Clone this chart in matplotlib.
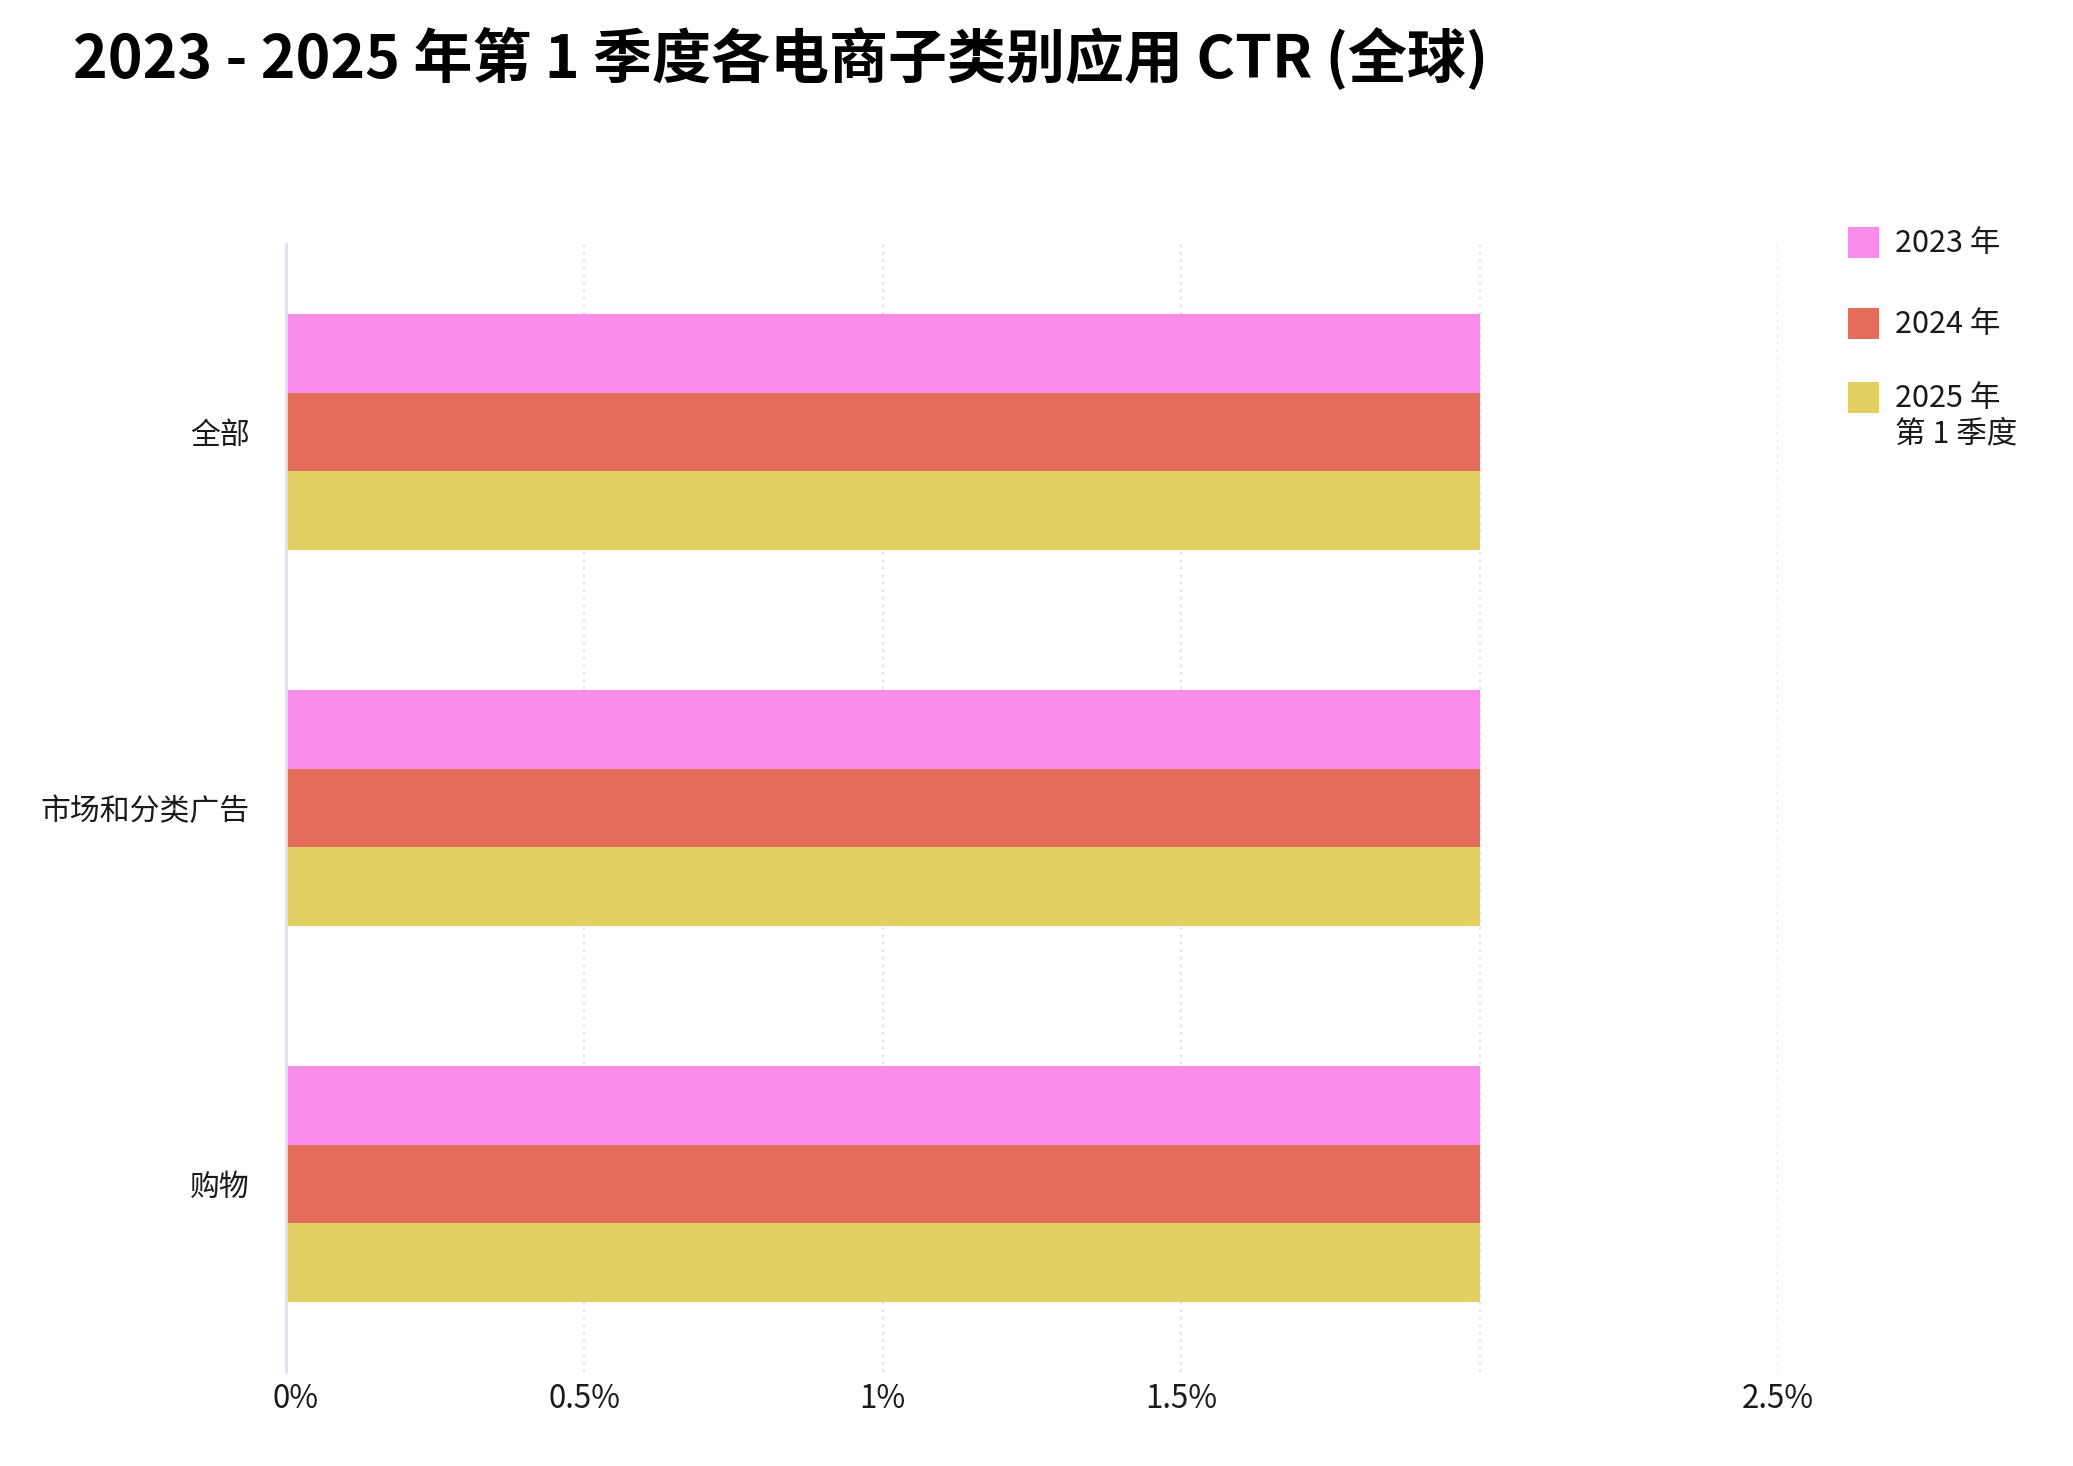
import matplotlib
matplotlib.use("Agg")
import matplotlib.pyplot as plt
import numpy as np
from matplotlib.patches import Rectangle

plt.rcParams["font.family"] = ["Noto Sans CJK SC", "DejaVu Sans"]
plt.rcParams["axes.unicode_minus"] = False

# data
categories = ["全部", "市场和分类广告", "购物"]
series_names = ["2023 年", "2024 年", "2025 年\n第 1 季度"]
ctr_2023 = [2.0, 2.0, 2.0]
ctr_2024 = [2.0, 2.0, 2.0]
ctr_2025q1 = [2.0, 2.0, 2.0]
xticks = [0, 0.5, 1, 1.5, 2, 2.5]
xtick_labels = ["0%", "0.5%", "1%", "1.5%", "", "2.5%"]

PINK = "#F98BEA"; RED = "#E46C5A"; YELLOW = "#E4CF62"
INK = "#1A1A1A"; GRID = "#D9D9DE"; SPINE = "#E2E0F0"
colors = [PINK, RED, YELLOW]

W, H = 2073, 1466
fig = plt.figure(figsize=(W / 100, H / 100), dpi=100)
fig.patch.set_facecolor("white")
ax = fig.add_axes([286 / W, 94 / H, (1778 - 286) / W, (1368 - 240) / H])

y = np.arange(len(categories))
bh = 0.21
for i, (vals, c) in enumerate(zip([ctr_2023, ctr_2024, ctr_2025q1], colors)):
    ax.barh(y + (i - 1) * bh, vals, height=bh, color=c, lw=0, zorder=2)

ax.set_xlim(0, 2.5)
ax.set_ylim(2.5, -0.5)
ax.set_yticks(y)
ax.set_yticklabels(categories, fontsize=21.5, color=INK)
ax.set_xticks(xticks)
# the first label is drawn separately, nudged right of the axis line
ax.set_xticklabels([""] + xtick_labels[1:], fontsize=22.5, color=INK)
ax.annotate(xtick_labels[0], xy=(xticks[0], 0), xycoords=("data", "axes fraction"),
            xytext=(7, -8), textcoords="offset points", ha="center", va="top",
            fontsize=22.5, color=INK, annotation_clip=False)
ax.tick_params(axis="both", length=0)
ax.tick_params(axis="x", pad=8)
ax.tick_params(axis="y", pad=26)
for x in xticks[1:]:
    ax.axvline(x, color=GRID, lw=1.2, ls=(0, (1.5, 3)), zorder=1)
for s in ["top", "right", "bottom"]:
    ax.spines[s].set_visible(False)
ax.spines["left"].set_color(SPINE)
ax.spines["left"].set_linewidth(2)

fig.text(73 / W, 1 - 60 / H, "2023 - 2025 年第 1 季度各电商子类别应用 CTR (全球)",
         fontsize=42.5, fontweight="bold", color="black", ha="left", va="center")

# legend
leg_y = [242, 323, 397]
for name, c, ly in zip(series_names, colors, leg_y):
    fig.add_artist(Rectangle((1848 / W, 1 - (ly + 16) / H), 31 / W, 31 / H,
                             transform=fig.transFigure, color=c, lw=0))
    fig.text(1895 / W, 1 - (ly - 14) / H, name, fontsize=22, color=INK,
             ha="left", va="top", linespacing=1.2)

fig.savefig("out.png", dpi=100, facecolor="white")
